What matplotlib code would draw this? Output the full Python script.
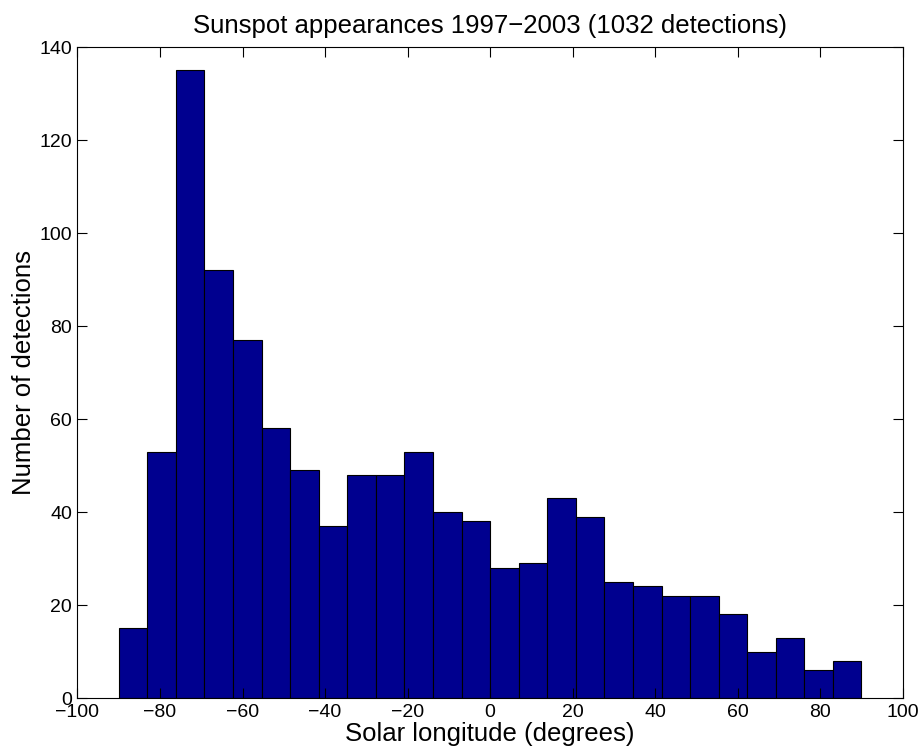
import numpy as np
import matplotlib.pyplot as plt

# histogram counts, 26 bins between -90 and 90 degrees
counts = [15, 53, 135, 92, 77, 58, 49, 37, 48, 48, 53, 40, 38,
          28, 29, 43, 39, 25, 24, 22, 22, 18, 10, 13, 6, 8]
edges = np.linspace(-90, 90, len(counts) + 1)
xticks = list(range(-100, 101, 20))
yticks = list(range(0, 141, 20))

plt.rcParams['font.family'] = ['Liberation Sans', 'DejaVu Sans']

fig = plt.figure(figsize=(9.21, 7.56), dpi=100)
ax = fig.add_axes([0.0841, 0.0767, 0.8961, 0.8611])

ax.bar(edges[:-1], counts, width=np.diff(edges), align='edge',
       color='#00008f', edgecolor='black', linewidth=0.8)

ax.set_xlim(-100, 100)
ax.set_ylim(0, 140)
ax.set_xticks(xticks)
ax.set_yticks(yticks)
ax.tick_params(direction='in', length=7, top=True, right=True, labelsize=14, pad=4)
for s in ax.spines.values():
    s.set_linewidth(0.8)

ax.set_xlabel('Solar longitude (degrees)', fontsize=18.5, labelpad=1)
ax.set_ylabel('Number of detections', fontsize=18.5, labelpad=2)
ax.set_title('Sunspot appearances 1997\u22122003 (1032 detections)', fontsize=18.5, pad=10)

fig.savefig('out.png', dpi=100)
